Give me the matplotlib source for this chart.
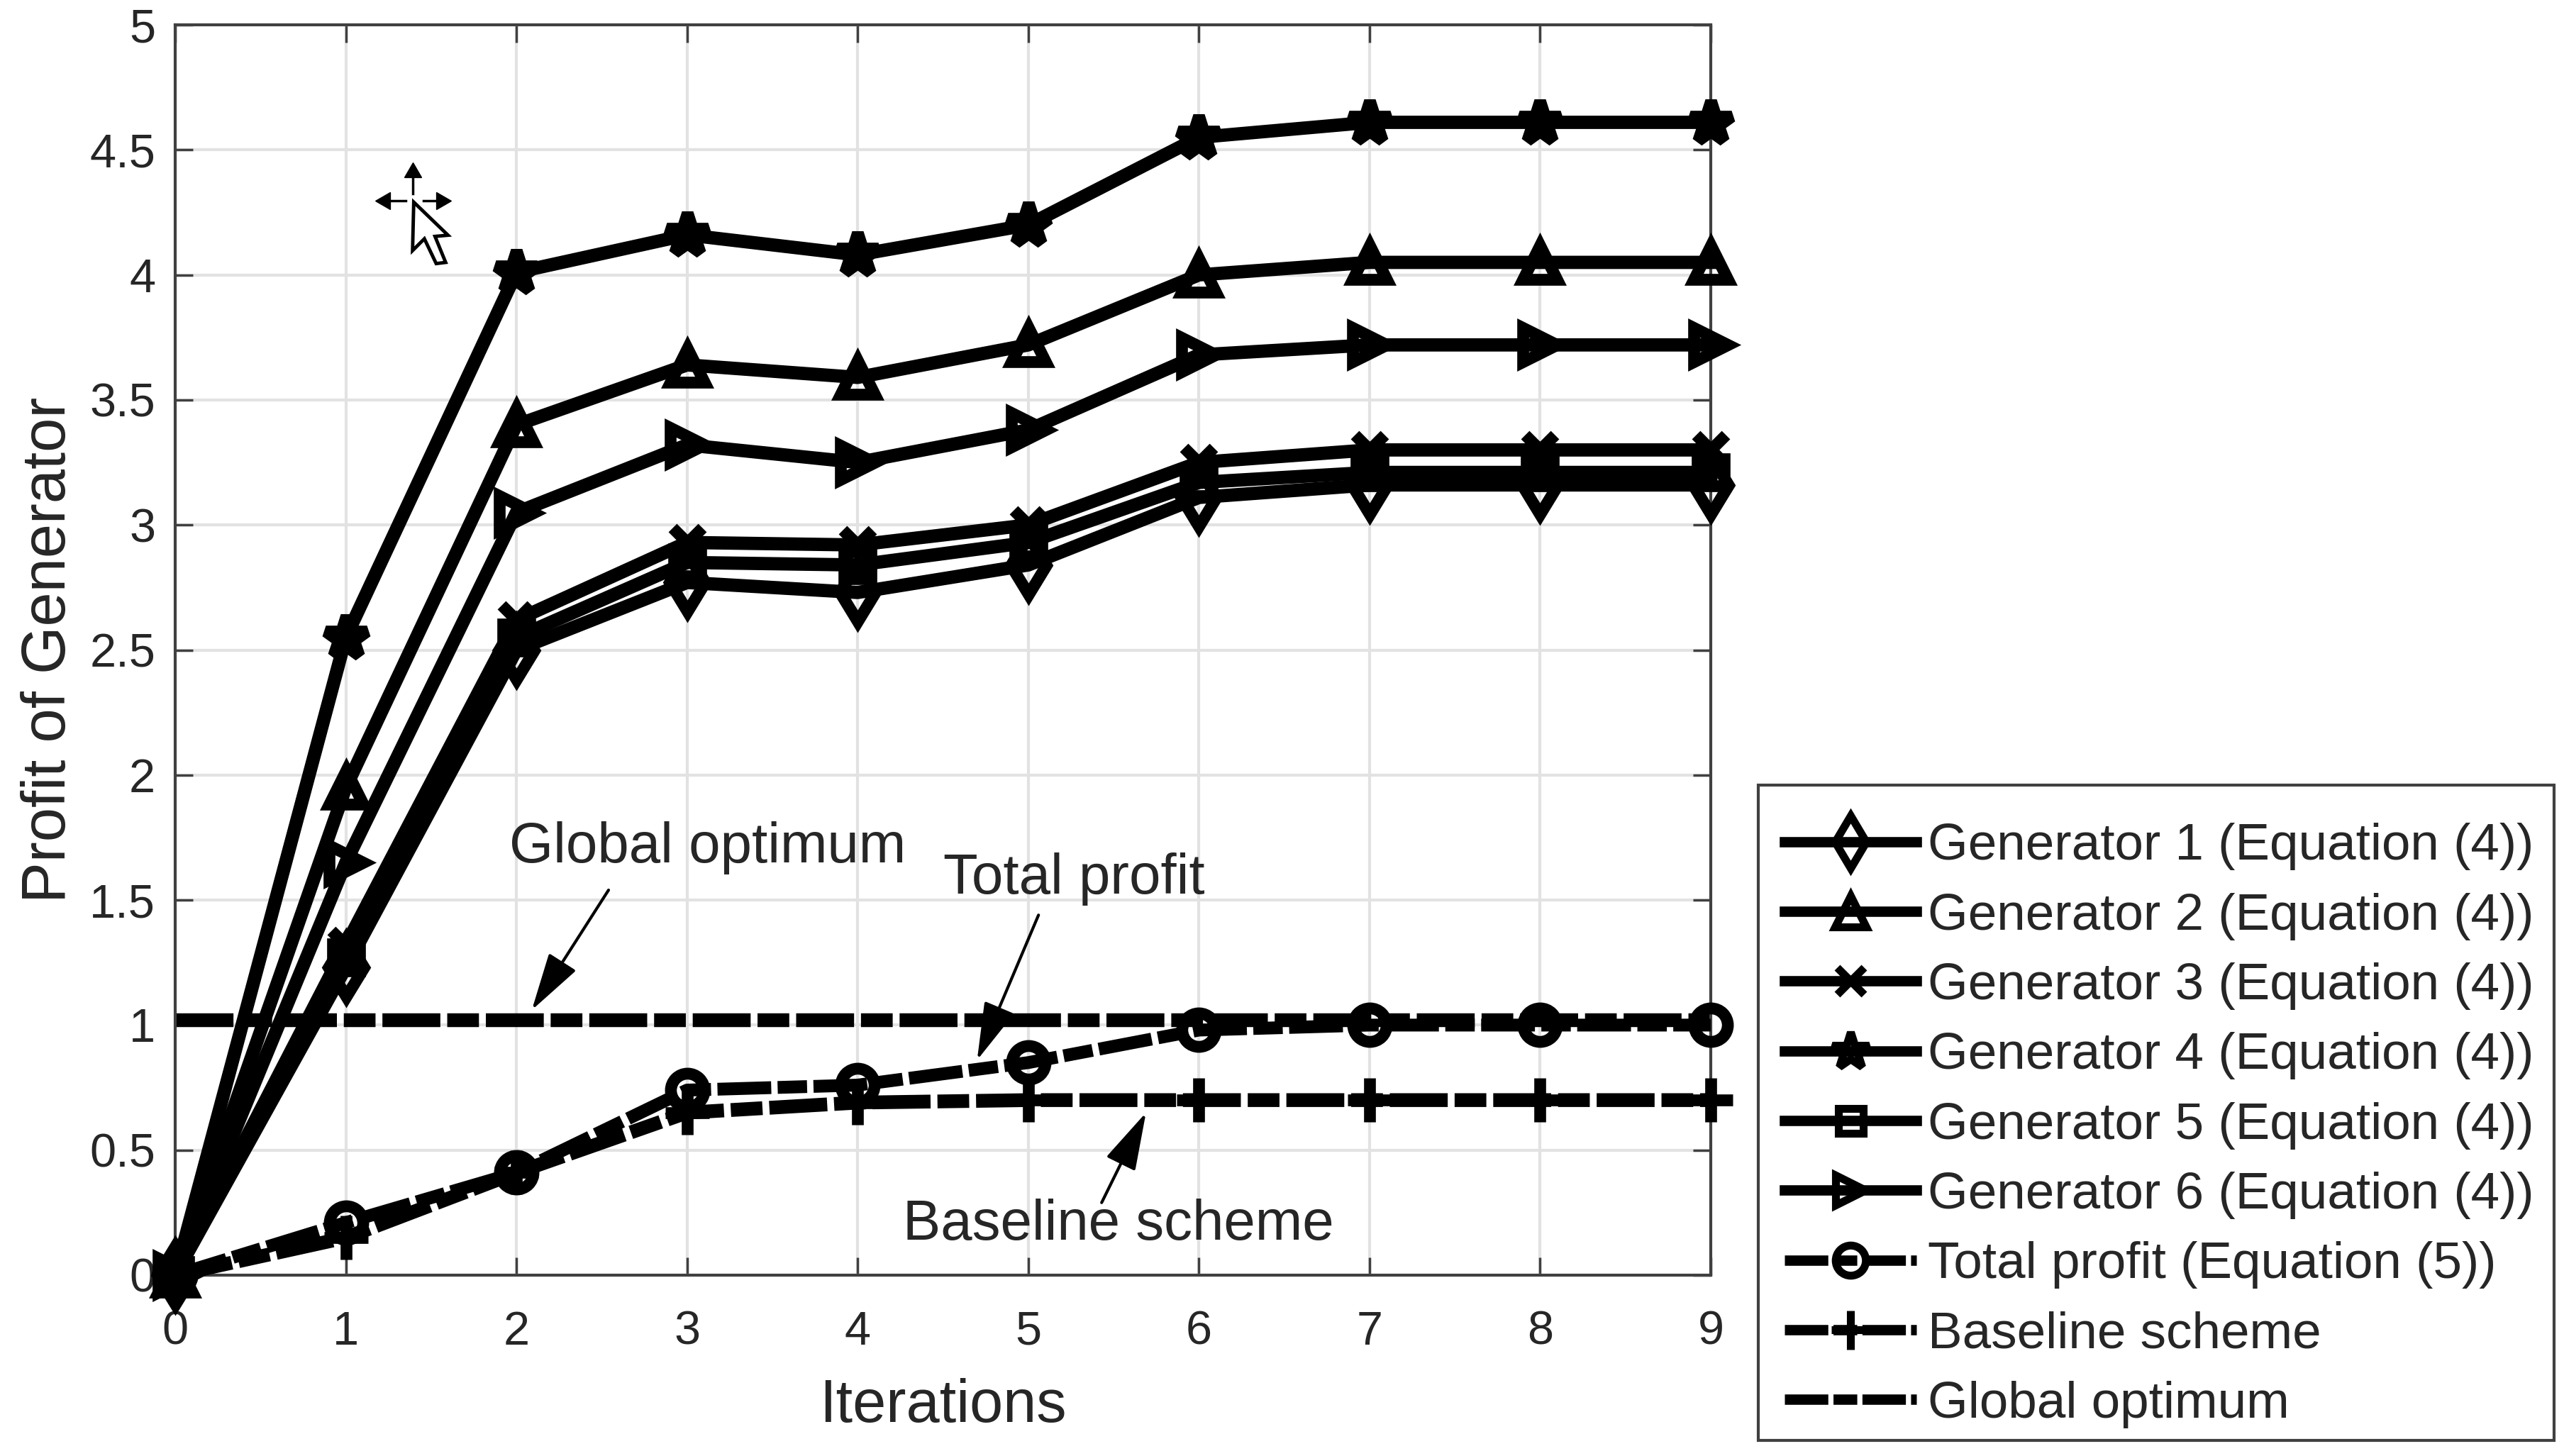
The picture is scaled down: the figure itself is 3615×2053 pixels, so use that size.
"""Profit of generators over iterations, MATLAB-style figure with outside legend."""
import matplotlib
matplotlib.use("Agg")
import matplotlib.pyplot as plt
from matplotlib.lines import Line2D
from matplotlib.patches import Polygon, Rectangle
from matplotlib.transforms import IdentityTransform

plt.rcParams["font.family"] = ["Liberation Sans", "DejaVu Sans"]

W, H, DPI = 3615, 2053, 100
INK = "#262626"
EDGE = "#404040"
GRID = "#e2e2e2"

iterations = [0, 1, 2, 3, 4, 5, 6, 7, 8, 9]
gen1 = [0, 1.23, 2.50, 2.77, 2.73, 2.84, 3.11, 3.16, 3.16, 3.16]
gen2 = [0, 1.95, 3.40, 3.64, 3.59, 3.72, 4.00, 4.05, 4.05, 4.05]
gen3 = [0, 1.32, 2.62, 2.93, 2.92, 3.00, 3.25, 3.30, 3.30, 3.30]
gen4 = [0, 2.55, 4.01, 4.16, 4.08, 4.20, 4.55, 4.61, 4.61, 4.61]
gen5 = [0, 1.27, 2.55, 2.85, 2.84, 2.93, 3.17, 3.21, 3.21, 3.21]
gen6 = [0, 1.65, 3.05, 3.32, 3.25, 3.38, 3.68, 3.72, 3.72, 3.72]
total = [0, 0.21, 0.41, 0.74, 0.76, 0.85, 0.98, 1.00, 1.00, 1.00]
baseline = [0, 0.15, 0.41, 0.65, 0.69, 0.70, 0.70, 0.70, 0.70, 0.70]
optimum = [1.02] * 10

x_ticks = [0, 1, 2, 3, 4, 5, 6, 7, 8, 9]
y_ticks = [0, 0.5, 1, 1.5, 2, 2.5, 3, 3.5, 4, 4.5, 5]
y_tick_labels = ["0", "0.5", "1", "1.5", "2", "2.5", "3", "3.5", "4", "4.5", "5"]

DASH = (0, (4.2, 0.5, 2.3, 0.5))

fig = plt.figure(figsize=(W / DPI, H / DPI), dpi=DPI, facecolor="white")
ax = fig.add_axes([247 / W, 1 - 1798 / H, (2412 - 247) / W, (1798 - 35) / H])


def pline(y, marker, label, ls="-", lw=13.5, ms=34, zorder=3):
    ax.plot(iterations, y, ls=ls, marker=marker, color="black", lw=lw, ms=ms, mew=12,
            mfc="none", mec="black", label=label, clip_on=False, zorder=zorder,
            dash_capstyle="butt", solid_joinstyle="round")


pline(gen1, "d", "Generator 1 (Equation (4))", ms=42)
pline(gen2, "^", "Generator 2 (Equation (4))", ms=35)
pline(gen3, "x", "Generator 3 (Equation (4))", ms=30)
pline(gen4, "*", "Generator 4 (Equation (4))", ms=44)
pline(gen5, "s", "Generator 5 (Equation (4))", ms=28)
pline(gen6, ">", "Generator 6 (Equation (4))", ms=34)
pline(total, "o", "Total profit (Equation (5))", ls=DASH, lw=13, ms=34, zorder=4)
pline(baseline, "+", "Baseline scheme", ls=DASH, lw=14, ms=44)
ax.plot(iterations, optimum, ls=DASH, color="black", lw=14, label="Global optimum",
        zorder=2, dash_capstyle="butt", clip_on=False)

ax.set_xlim(0, 9)
ax.set_ylim(0, 5)
ax.set_xticks(x_ticks)
ax.set_yticks(y_ticks)
ax.set_yticklabels(y_tick_labels)
ax.grid(True, color=GRID, lw=3)
ax.set_axisbelow(True)
ax.tick_params(direction="in", length=18, width=2.5, color=EDGE, labelsize=48, labelcolor=INK,
               top=True, right=True)
ax.tick_params(axis="x", pad=36)
ax.tick_params(axis="y", pad=20)
for spine in ax.spines.values():
    spine.set_color(EDGE)
    spine.set_linewidth(3)
ax.set_xlabel("Iterations", fontsize=61, color=INK, labelpad=24)
ax.set_ylabel("Profit of Generator", fontsize=62.5, color=INK, labelpad=12)


def note(label, text_xy, start, tip):
    ax.text(*text_xy, label, fontsize=57.5, color=INK, ha="center", va="center", zorder=6)
    ax.annotate("", xy=tip, xytext=start, zorder=6,
                arrowprops=dict(arrowstyle="-|>,head_length=1.5,head_width=0.42", lw=3,
                                color="black", shrinkA=0, shrinkB=0, mutation_scale=34))


note("Global optimum", (3.12, 1.71), (2.54, 1.54), (2.09, 1.06))
note("Total profit", (5.27, 1.585), (5.06, 1.44), (4.70, 0.86))
note("Baseline scheme", (5.53, 0.20), (5.43, 0.29), (5.69, 0.65))

fig.add_artist(Rectangle((2479, H - 2031), 3601 - 2479, 2031 - 1107, fc="white", ec=EDGE, lw=3,
                         transform=IdentityTransform(), zorder=4))
leg = fig.legend(loc="lower left", bbox_to_anchor=(2516 / W, 1 - 2014 / H),
                 bbox_transform=fig.transFigure, fontsize=52.5, frameon=False, borderpad=0,
                 borderaxespad=0, labelspacing=0.43, handlelength=2.55, handletextpad=0.22,
                 labelcolor=INK, markerscale=0.9)
leg.set_zorder(5)
for handle in leg.get_lines():
    handle.set_linewidth(10.5)
    handle.set_markeredgewidth(8)


def px(points):
    return [(450 + a / 3, H - (200 + b / 3)) for a, b in points]


# stray mouse cursor captured in the original screenshot
tr = IdentityTransform()
fig.add_artist(Polygon(px([(400, 255), (545, 395), (490, 400), (535, 510), (495, 515),
                           (445, 410), (395, 460)]),
                       closed=True, fc="white", ec="black", lw=3.5, transform=tr, zorder=8))
for tail, head, angle in [((397, 220), (397, 130), 0), ((365, 250), (280, 250), 90),
                          ((440, 250), (515, 250), -90)]:
    (xa, ya), (xb, yb) = px([tail, head])
    fig.add_artist(Line2D([xa, xb], [ya, yb], color="black", lw=2.5, transform=tr, zorder=8))
    fig.add_artist(Line2D([xb], [yb], marker=(3, 0, angle), ms=20, color="black",
                          transform=tr, zorder=8))

fig.savefig("out.png", dpi=DPI, facecolor="white")
